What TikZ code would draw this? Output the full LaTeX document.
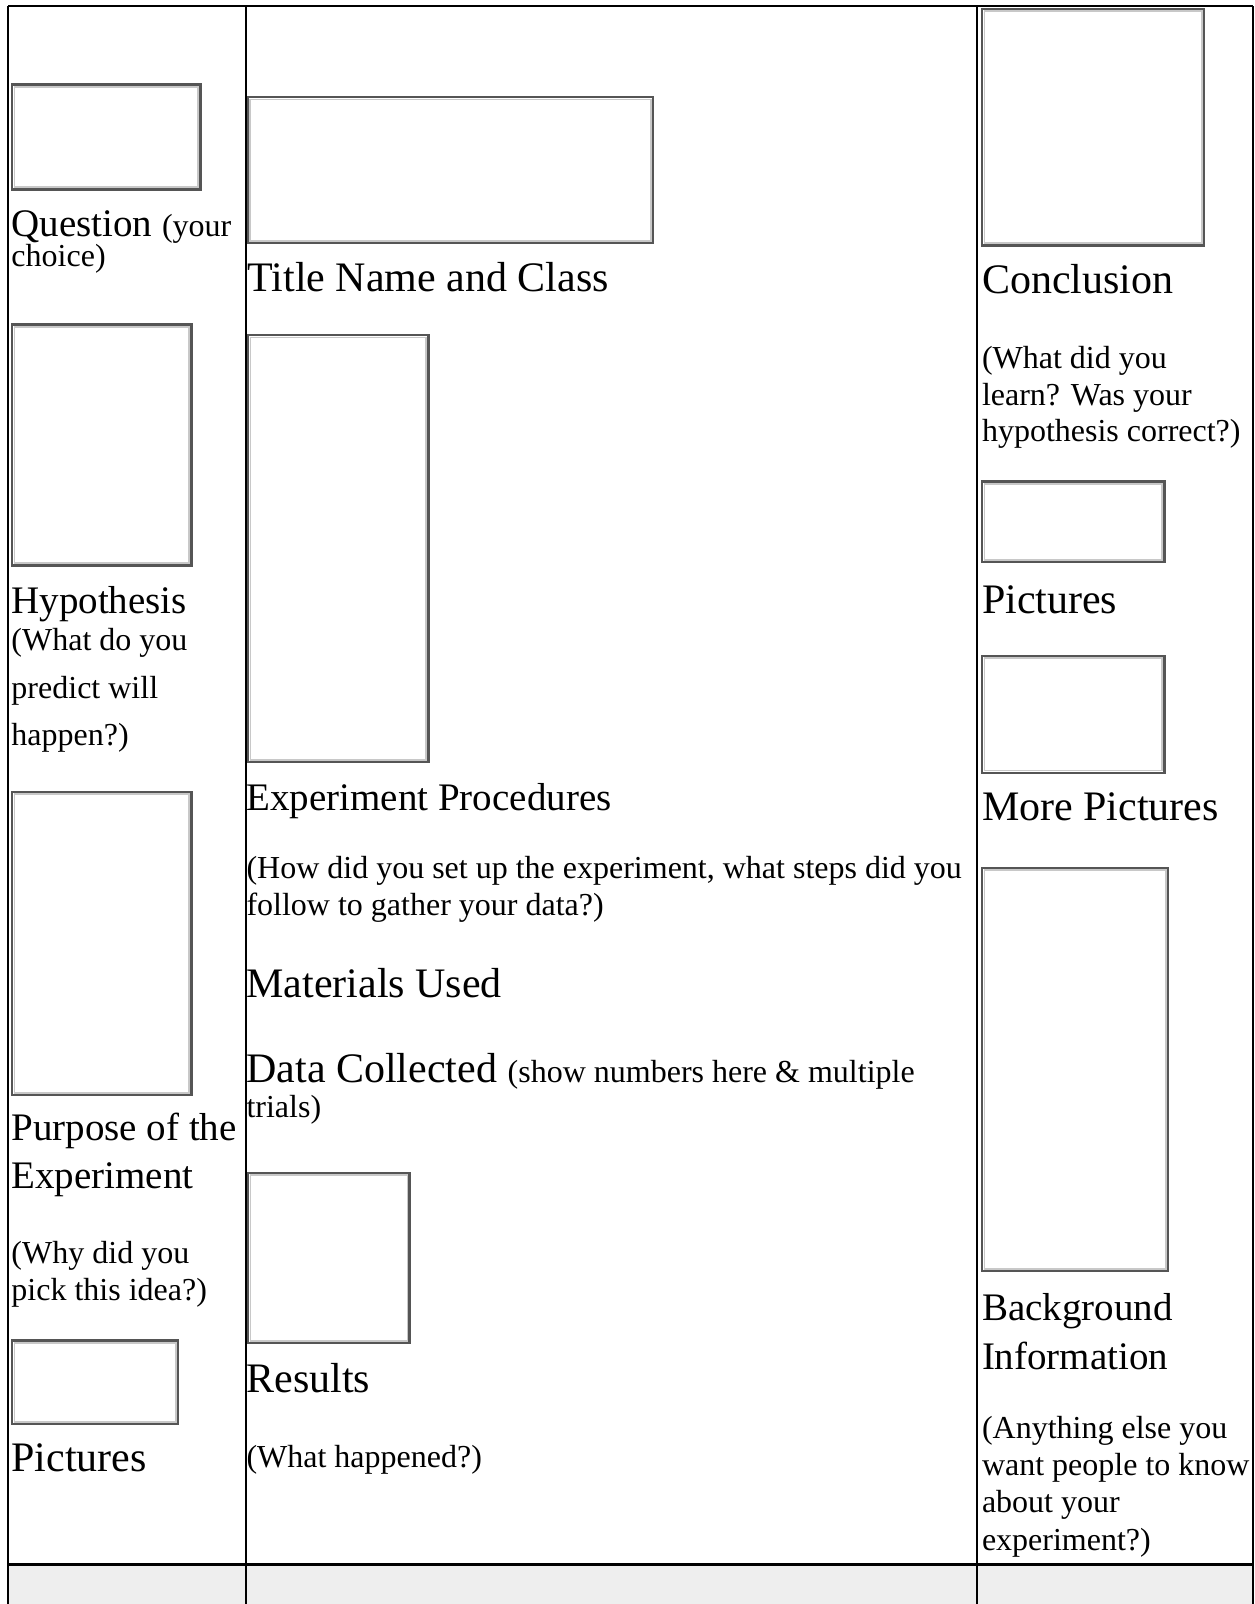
\documentclass[tikz,border=0pt]{standalone}
\usepackage{fontspec}
\setmainfont{Liberation Serif}
\definecolor{boxdark}{HTML}{555555}
\definecolor{boxlight}{HTML}{C8C8C8}
\definecolor{rowgray}{HTML}{EEEEEE}
\newcommand{\smallsz}{\fontsize{32}{32}\selectfont}
\newcommand{\imgbox}[5]{%
  \node[imgbox, minimum width={#4-#2-2.4}, minimum height={#5-#3-2.4}] (#1) at (#2+1.2,#3+1.2) {};
  \draw[boxinner] ([shift={(2.2,2.2)}]#1.north west) rectangle ([shift={(-2.2,-2.2)}]#1.south east);
}
\tikzset{
  bigtxt/.style={anchor=base west, inner sep=0, outer sep=0, font=\fontsize{42}{42}\selectfont},
  midtxt/.style={anchor=base west, inner sep=0, outer sep=0, font=\fontsize{39}{39}\selectfont},
  smalltxt/.style={anchor=base west, inner sep=0, outer sep=0, font=\smallsz},
  imgbox/.style={draw=boxdark, line width=2.4, fill=white, inner sep=0, outer sep=0, anchor=north west},
  boxinner/.style={draw=boxlight, line width=1.8},
  rulel/.style={draw=black, line width=2},
  sepl/.style={draw=black, line width=3},
}
\begin{document}
\begin{tikzpicture}[x=1pt,y=-1pt]
\useasboundingbox (0,0) rectangle (1255,1604);
\fill[white] (0,0) rectangle (1255,1604);
% table frame
\coordinate (tl) at (8.3,6);
\coordinate (tr) at (1252.5,6);
\coordinate (c1t) at (245.7,6);
\coordinate (c2t) at (977.3,6);
\coordinate (bl) at (8.3,1604);
\coordinate (br) at (1252.5,1604);
\coordinate (c1b) at (245.7,1604);
\coordinate (c2b) at (977.3,1604);
\coordinate (sl) at (8.3,1564);
\coordinate (sr) at (1252.5,1564);
\fill[rowgray] (sl) rectangle (br);
\draw[rulel] (tl) -- (tr);
\draw[rulel] (tl) -- (bl);
\draw[rulel] (tr) -- (br);
\draw[rulel] (c1t) -- (c1b);
\draw[rulel] (c2t) -- (c2b);
\draw[sepl] (sl) -- (sr);

% left column
\imgbox{qbox}{11}{83.3}{201.7}{190.7}
\node[midtxt] (tq) at (11.5,236) {Question {\smallsz(your}};
\node[smalltxt] (tq2) at (11.5,266.5) {choice)};
\imgbox{hbox}{11}{323.3}{192.7}{566.7}
\node[midtxt] (th) at (11.5,613) {Hypothesis};
\node[smalltxt] (th1) at (11.5,650) {(What do you};
\node[smalltxt] (th2) at (11.5,698) {predict will};
\node[smalltxt] (th3) at (11.5,745) {happen?)};
\imgbox{pbox}{11}{790.7}{192.7}{1096}
\node[midtxt] (tp1) at (11.5,1140) {Purpose of the};
\node[midtxt] (tp2) at (11.5,1188) {Experiment};
\node[smalltxt] (tp3) at (11.5,1263) {(Why did you};
\node[smalltxt] (tp4) at (11.5,1300.5) {pick this idea?)};
\imgbox{picl}{11}{1339.3}{179}{1425}
\node[bigtxt] (tpicl) at (11.5,1471) {Pictures};

% middle column
\imgbox{titlebox}{246.7}{96}{654}{244}
\node[bigtxt] (ttitle) at (247.5,291.5) {Title Name and Class};
\imgbox{expbox}{247}{334}{429.7}{763.3}
\node[midtxt] (texp) at (246.5,810) {Experiment Procedures};
\node[smalltxt] (texp1) at (246.5,878) {(How did you set up the experiment, what steps did you};
\node[smalltxt] (texp2) at (246.5,915) {follow to gather your data?)};
\node[bigtxt] (tmat) at (246.5,997) {Materials Used};
\node[bigtxt] (tdata) at (246.5,1082) {Data Collected {\smallsz(show numbers here \& multiple}};
\node[smalltxt] (tdata2) at (246.5,1117) {trials)};
\imgbox{resbox}{247}{1171.7}{410.8}{1344.3}
\node[bigtxt] (tres) at (246.5,1392) {Results};
\node[smalltxt] (tres2) at (246.5,1467) {(What happened?)};

% right column
\imgbox{conbox}{981}{7.5}{1205}{246.7}
\node[bigtxt] (tcon) at (982,293.5) {Conclusion};
\node[smalltxt] (tcon1) at (982,368) {(What did you};
\node[smalltxt] (tcon2) at (982,405) {learn? Was your};
\node[smalltxt] (tcon3) at (982,441) {hypothesis correct?)};
\imgbox{picr}{981}{480.3}{1165.7}{563.4}
\node[bigtxt] (tpicr) at (982,613) {Pictures};
\imgbox{morebox}{981}{654.5}{1165.7}{773.9}
\node[bigtxt] (tmore) at (982,820) {More Pictures};
\imgbox{bgbox}{981}{866.8}{1169}{1272}
\node[midtxt] (tbg1) at (982,1320) {Background};
\node[midtxt] (tbg2) at (982,1369) {Information};
\node[smalltxt] (tbg3) at (982,1438) {(Anything else you};
\node[smalltxt] (tbg4) at (982,1475) {want people to know};
\node[smalltxt] (tbg5) at (982,1512) {about your};
\node[smalltxt] (tbg6) at (982,1550) {experiment?)};
\end{tikzpicture}
\end{document}
